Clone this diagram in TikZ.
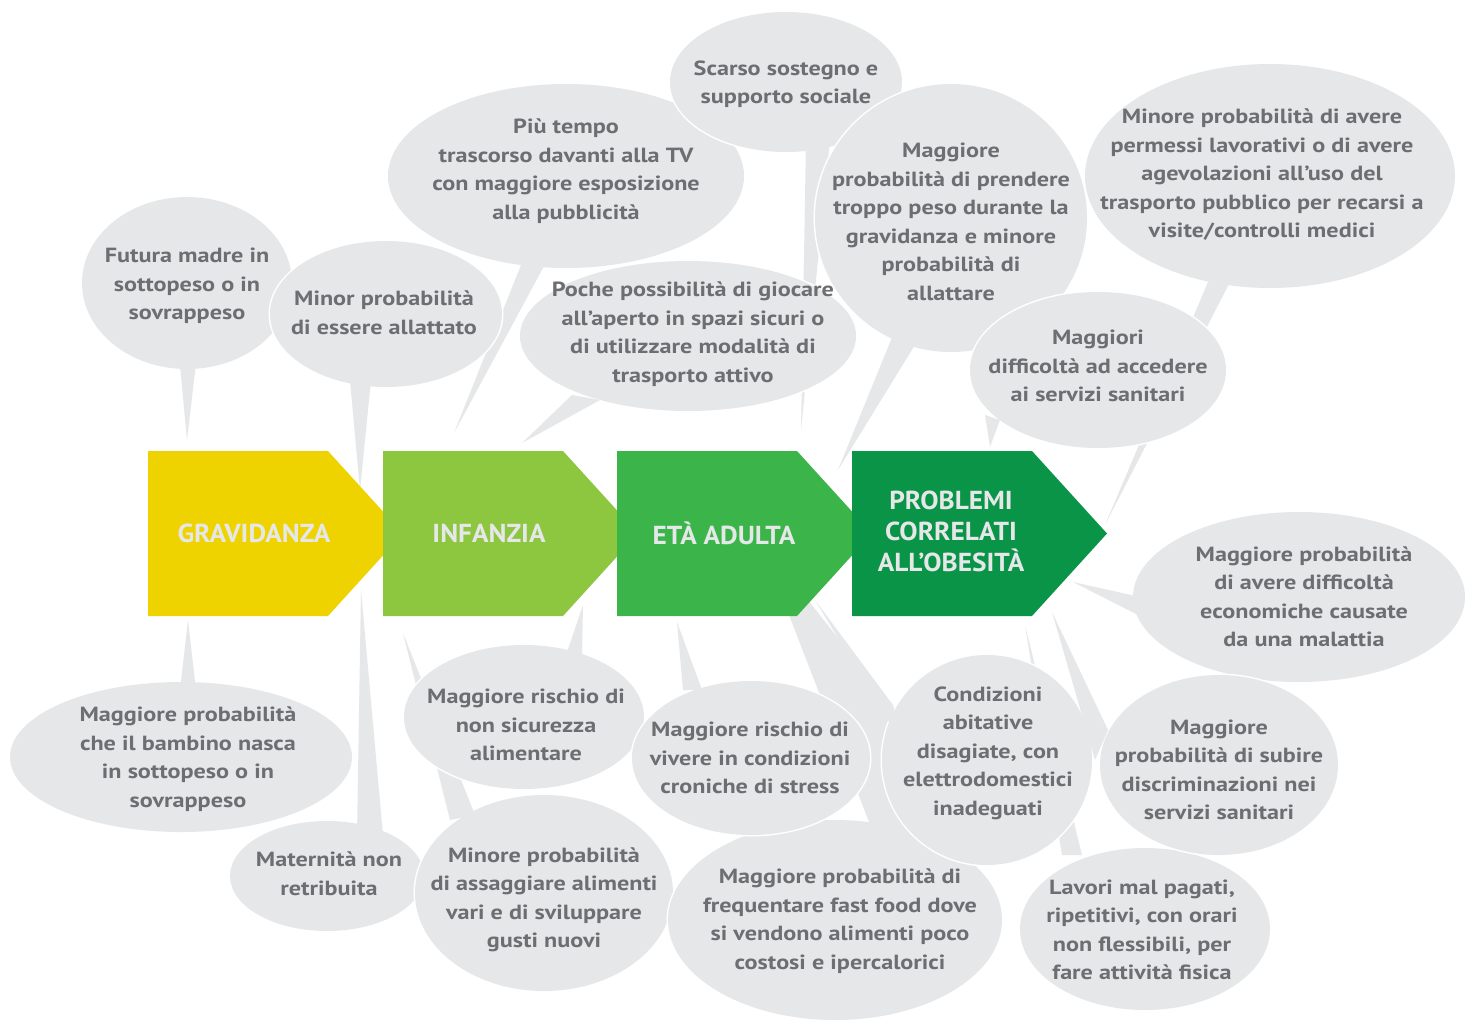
\documentclass[tikz,border=0pt]{standalone}
\usepackage{fontspec}
\setmainfont{PT Sans}[FakeStretch=1.18]
\newfontfamily\chevfont{PT Sans}[FakeStretch=1.05]
\definecolor{bubgray}{HTML}{E6E7E8}
\definecolor{txtgray}{HTML}{6D6E71}
\definecolor{cyellow}{HTML}{EED300}
\definecolor{clgreen}{HTML}{8DC63F}
\definecolor{cmgreen}{HTML}{3BB54A}
\definecolor{cdgreen}{HTML}{0A9447}
\newcommand\bubbletxt{\fontsize{20.5}{28.5}\selectfont\bfseries}
\newcommand\chevtxt{\chevfont\fontsize{26}{31}\selectfont\bfseries}
\tikzset{
  btxt/.style={text=txtgray, font=\bubbletxt, align=center, inner sep=0pt},
  ctxt/.style={text=bubgray, font=\chevtxt, align=center, inner sep=0pt},
  bubfill/.style={fill=bubgray},
  bubedge/.style={draw=white, line width=3pt}
}
% #1 name, #2 ellipse centre, #3 rx, #4 ry, #5 tail base 1, #6 tail base 2, #7 tail tip, #8 text pos, #9 text
\newcommand\speechbubble[9]{%
  \coordinate (#1-tip) at #7;
  \draw[bubedge] #2 ellipse [x radius=#3pt, y radius=#4pt];
  \fill[bubfill] #5 -- (#1-tip) -- #6 -- cycle;
  \fill[bubfill] #2 ellipse [x radius=#3pt, y radius=#4pt];
  \node[btxt] (#1) at #8 {#9};
}
\newcommand\chevron[2]{% #1 left x, #2 colour
  \fill[#2] (#1,451) -- ++(180,0) -- ++(75,82.5) -- ++(-75,82.5) -- ++(-180,0) -- cycle;
}
\begin{document}
\begin{tikzpicture}[x=1pt,y=-1pt]
\useasboundingbox (0,0) rectangle (1467,1023);
\fill[white] (0,0) rectangle (1467,1023);

% upper bubbles
\speechbubble{piu}{(566,176)}{178}{92}{(525,255)}{(550,255)}{(454,433)}{(566,171)}{Più tempo\\trascorso davanti alla TV\\con maggiore esposizione\\alla pubblicità}
\speechbubble{scarso}{(786,82)}{116}{70}{(806,140)}{(830,140)}{(801,430)}{(786,84)}{Scarso sostegno e\\supporto sociale}
\speechbubble{futura}{(187,283)}{105}{86}{(179,355)}{(197,355)}{(187,440)}{(187,286)}{Futura madre in\\sottopeso o in\\sovrappeso}
\speechbubble{minor}{(386,314)}{116}{73}{(349,370)}{(372,370)}{(360,490)}{(384,313)}{Minor probabilità\\di essere allattato}
\speechbubble{poche}{(688,336)}{168}{75}{(572,395)}{(600,400)}{(522,443)}{(693,334)}{Poche possibilità di giocare\\all’aperto in spazi sicuri o\\di utilizzare modalità di\\trasporto attivo}
\speechbubble{prendere}{(951,218)}{136}{134}{(893,335)}{(918,340)}{(838,470)}{(951,222)}{Maggiore\\probabilità di prendere\\troppo peso durante la\\gravidanza e minore\\probabilità di\\allattare}
\speechbubble{permessi}{(1270,176)}{185}{112}{(1208,282)}{(1230,282)}{(1105,525)}{(1262,175)}{Minore probabilità di avere\\permessi lavorativi o di avere\\agevolazioni all’uso del\\trasporto pubblico per recarsi a\\visite/controlli medici}
\speechbubble{accesso}{(1098,370)}{128}{78}{(985,415)}{(1000,420)}{(990,447)}{(1098,366)}{Maggiori\\difficoltà ad accedere\\ai servizi sanitari}

% lower bubbles
\speechbubble{bambino}{(181,757)}{171}{75}{(180,690)}{(196,690)}{(188,620)}{(188,759)}{Maggiore probabilità\\che il bambino nasca\\in sottopeso o in\\sovrappeso}
\speechbubble{maternita}{(327,876)}{97}{55}{(357,835)}{(383,835)}{(361,590)}{(329,874)}{Maternità non\\retribuita}
\speechbubble{assaggiare}{(544,893)}{129}{98}{(450,820)}{(475,815)}{(403,633)}{(544,900)}{Minore probabilità\\di assaggiare alimenti\\vari e di sviluppare\\gusti nuovi}
\speechbubble{sicurezza}{(524,717)}{120}{72}{(566,655)}{(582,655)}{(583,605)}{(526,725)}{Maggiore rischio di\\non sicurezza\\alimentare}
\speechbubble{fastfood}{(835,920)}{167}{100}{(876,840)}{(999,840)}{(760,540)}{(840,921)}{Maggiore probabilità di\\frequentare fast food dove\\si vendono alimenti poco\\costosi e ipercalorici}
\speechbubble{stress}{(751,758)}{119}{77}{(683,690)}{(702,690)}{(677,622)}{(750,758)}{Maggiore rischio di\\vivere in condizioni\\croniche di stress}
\speechbubble{lavori}{(1145,929)}{125}{81}{(1062,855)}{(1082,855)}{(1025,625)}{(1142,930)}{Lavori mal pagati,\\ripetitivi, con orari\\non flessibili, per\\fare attività fisica}
\speechbubble{abitative}{(987,760)}{105}{105}{(893,705)}{(900,740)}{(815,600)}{(988,753)}{Condizioni\\abitative\\disagiate, con\\elettrodomestici\\inadeguati}
\speechbubble{economiche}{(1299,597)}{166}{85}{(1140,597)}{(1138,615)}{(1073,582)}{(1304,597)}{Maggiore probabilità\\di avere difficoltà\\economiche causate\\da una malattia}
\speechbubble{discrim}{(1219,765)}{119}{90}{(1095,760)}{(1108,730)}{(1052,612)}{(1219,770)}{Maggiore\\probabilità di subire\\discriminazioni nei\\servizi sanitari}

% chevrons
\chevron{148}{cyellow}
\chevron{383}{clgreen}
\chevron{617}{cmgreen}
\chevron{852}{cdgreen}
\node[ctxt] (gravidanza) at (254,533) {GRAVIDANZA};
\node[ctxt] (infanzia) at (489,533) {INFANZIA};
\node[ctxt] (adulta) at (724,533) {ETÀ ADULTA};
\node[ctxt] (problemi) at (951,531) {PROBLEMI\\CORRELATI\\ALL’OBESITÀ};
\end{tikzpicture}
\end{document}
